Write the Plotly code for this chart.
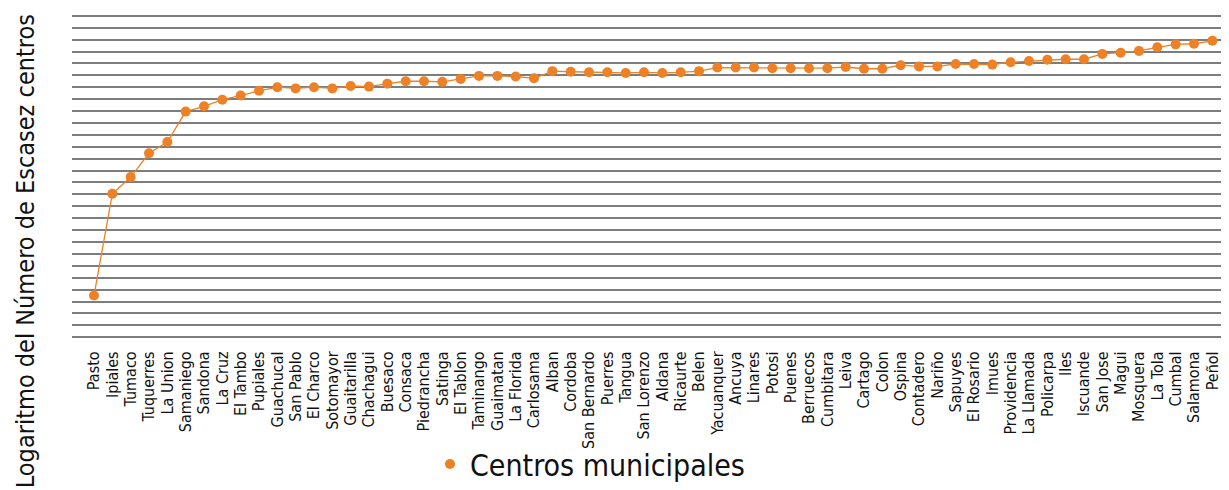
import plotly.graph_objects as go

municipios = ["Pasto", "Ipiales", "Tumaco", "Tuquerres", "La Union", "Samaniego", "Sandona",
              "La Cruz", "El Tambo", "Pupiales", "Guachucal", "San Pablo", "El Charco",
              "Sotomayor", "Guaitarilla", "Chachagui", "Buesaco", "Consaca", "Piedrancha",
              "Satinga", "El Tablon", "Taminango", "Guaimatan", "La Florida", "Carlosama",
              "Alban", "Cordoba", "San Bernardo", "Puerres", "Tangua", "San Lorenzo", "Aldana",
              "Ricaurte", "Belen", "Yacuanquer", "Ancuya", "Linares", "Potosi", "Puenes",
              "Berruecos", "Cumbitara", "Leiva", "Cartago", "Colon", "Ospina", "Contadero",
              "Nariño", "Sapuyes", "El Rosario", "Imues", "Providencia", "La Llamada",
              "Policarpa", "Iles", "Iscuande", "San Jose", "Magui", "Mosquera", "La Tola",
              "Cumbal", "Salamona", "Peñol"]

log_escasez = [0.70, 2.41, 2.69, 3.09, 3.28, 3.79, 3.88,
               3.99, 4.06, 4.14, 4.20, 4.18, 4.20,
               4.18, 4.22, 4.21, 4.26, 4.30, 4.30,
               4.29, 4.34, 4.39, 4.39, 4.38, 4.35,
               4.47, 4.46, 4.45, 4.45, 4.44, 4.45, 4.44,
               4.45, 4.47, 4.53, 4.53, 4.53, 4.52, 4.52,
               4.52, 4.52, 4.54, 4.51, 4.51, 4.57, 4.55,
               4.55, 4.59, 4.59, 4.58, 4.62, 4.64,
               4.66, 4.67, 4.67, 4.76, 4.78, 4.81, 4.87,
               4.92, 4.93, 4.98]

serie = "Centros municipales"
titulo_y = "Logaritmo del Número de Escasez centros"
naranja = "#EE8126"
fuente = "DejaVu Sans Condensed, Liberation Sans Narrow, sans-serif"

fig = go.Figure()
fig.add_trace(go.Scatter(
    x=municipios, y=log_escasez, mode="lines+markers", name=serie,
    line=dict(color=naranja, width=1.3),
    marker=dict(color=naranja, size=10),
    showlegend=False,
))
# legend entry (dot only, as in the reference)
fig.add_trace(go.Scatter(
    x=[municipios[0]], y=[None], mode="markers", name=serie,
    marker=dict(color=naranja, size=10), showlegend=True, hoverinfo="skip",
))

# the page body has an 8px margin, so the figure is 8px smaller than the window
fig.update_layout(
    width=1221, height=482,
    margin=dict(l=64, r=2, t=6, b=151),
    paper_bgcolor="white", plot_bgcolor="white",
    font=dict(family=fuente, color="#111111"),
    showlegend=True,
    legend=dict(orientation="h", xref="container", yref="container",
                x=0.3456, xanchor="left", y=0.0, yanchor="bottom",
                font=dict(size=30, color="#111111", family=fuente),
                bgcolor="rgba(0,0,0,0)", borderwidth=0),
    xaxis=dict(type="category", range=[-1.2, 61.8], tickmode="linear", tick0=0, dtick=1,
               showgrid=False, zeroline=False, automargin=False,
               showline=False, tickangle=-90, ticks="outside", ticklen=5,
               tickcolor="rgba(0,0,0,0)", tickfont=dict(size=16, color="#111111", family=fuente)),
    yaxis=dict(range=[-0.03, 5.43], dtick=0.2, tick0=0, showticklabels=False,
               showgrid=True, gridcolor="#7d7d7d", gridwidth=1.5, zeroline=False,
               showline=False, ticks="", automargin=False),
    annotations=[dict(text=titulo_y, textangle=-90,
                      xref="paper", yref="paper", x=-0.0407, y=0.27,
                      xanchor="center", yanchor="middle", showarrow=False,
                      font=dict(size=25, color="#111111", family=fuente))],
)

fig.write_html("out.html")
